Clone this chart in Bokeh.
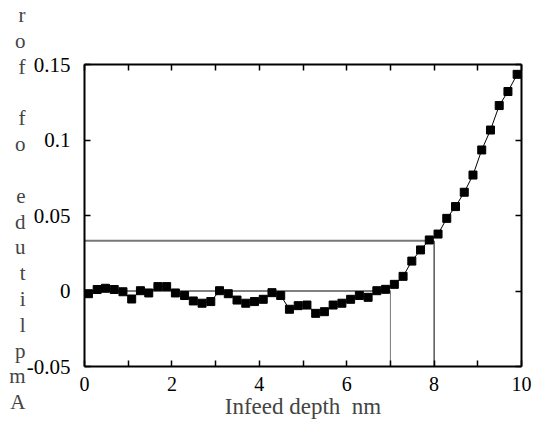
from bokeh.plotting import figure
from bokeh.models import Range1d, LinearAxis, FixedTicker, ColumnDataSource
from bokeh.embed import file_html
from bokeh.resources import INLINE

# Data
depth = [0.09, 0.29, 0.48, 0.68, 0.88, 1.08, 1.28, 1.47, 1.68, 1.88,
         2.08, 2.29, 2.49, 2.69, 2.89, 3.09, 3.29, 3.49, 3.69, 3.89,
         4.09, 4.29, 4.49, 4.69, 4.89, 5.09, 5.29, 5.49, 5.69, 5.89,
         6.09, 6.29, 6.49, 6.69, 6.89, 7.09, 7.29, 7.49, 7.69, 7.89,
         8.09, 8.29, 8.49, 8.69, 8.89, 9.09, 9.29, 9.49, 9.69, 9.90]
amplitude = [-0.0018, 0.0010, 0.0018, 0.0010, -0.0005, -0.0053, 0.0002, -0.0013, 0.0029, 0.0029,
             -0.0013, -0.0030, -0.0066, -0.0081, -0.0070, 0.0002, -0.0018, -0.0060, -0.0081, -0.0070,
             -0.0055, -0.0011, -0.0030, -0.0121, -0.0097, -0.0093, -0.0148, -0.0137, -0.0093, -0.0081,
             -0.0055, -0.0030, -0.0042, 0.0002, 0.0011, 0.0044, 0.0097, 0.0198, 0.0272, 0.0338,
             0.0377, 0.0481, 0.0559, 0.0654, 0.0768, 0.0934, 0.1066, 0.1228, 0.1321, 0.1435]

# reference guide lines: (level, depth)
guide_levels = [0.0, 0.0332]
guide_depths = [7.0, 8.0]
guide_colors = ["black", "#777777"]
guide_widths = [1, 2]
vguide_colors = ["#777777", "black"]

x_ticks = [0, 2, 4, 6, 8, 10]
x_minor = [1, 3, 5, 7, 9]
y_ticks = [-0.05, 0, 0.05, 0.1, 0.15]
y_tick_labels = {-0.05: "-0.05", 0: "0", 0.05: "0.05", 0.1: "0.1", 0.15: "0.15"}
x_label = "Infeed depth\u00a0 nm"
y_label = "Amplitude of for"

FONT = "Liberation Serif"
W, H = 533, 425
BL, BT, FW, FH = 84, 64, 437, 302

p = figure(width=W, height=H, output_backend="svg", toolbar_location=None,
           x_range=Range1d(0, 10), y_range=Range1d(-0.05, 0.15),
           min_border_left=BL, min_border_right=W - BL - FW,
           min_border_top=BT, min_border_bottom=H - BT - FH,
           x_axis_location=None, y_axis_location=None)
p.xgrid.visible = False
p.ygrid.visible = False
p.outline_line_color = None
p.background_fill_color = "white"
p.border_fill_color = "white"

def style(ax, labels=True):
    ax.axis_line_width = 2
    ax.axis_line_color = "black"
    ax.major_tick_in = 6
    ax.major_tick_out = 0
    ax.minor_tick_in = 6
    ax.minor_tick_out = 0
    ax.major_tick_line_width = 1.5
    ax.minor_tick_line_width = 1.5
    ax.major_label_text_font = FONT
    ax.major_label_text_font_size = "20px"
    ax.major_label_text_color = "black"
    if not labels:
        ax.major_label_text_font_size = "0px"
        ax.major_label_text_color = None
        ax.major_label_standoff = 0

bottom = LinearAxis(ticker=FixedTicker(ticks=x_ticks, minor_ticks=x_minor))
style(bottom)
bottom.major_label_standoff = 10
bottom.axis_label = x_label
bottom.axis_label_text_font = FONT
bottom.axis_label_text_font_size = "23px"
bottom.axis_label_text_font_style = "normal"
bottom.axis_label_standoff = 0
p.add_layout(bottom, "below")

top = LinearAxis(ticker=FixedTicker(ticks=x_ticks, minor_ticks=x_minor))
style(top, labels=False)
p.add_layout(top, "above")

left = LinearAxis(ticker=FixedTicker(ticks=y_ticks, minor_ticks=[]))
style(left)
left.major_label_text_font_size = "21px"
left.major_label_standoff = 14
left.major_label_overrides = y_tick_labels
p.add_layout(left, "left")

# stacked, upright y-axis title (reads bottom to top), drawn as one multi-line label
ylab_pos = 0.0545
ylab_axis = LinearAxis(ticker=FixedTicker(ticks=[ylab_pos], minor_ticks=[]))
ylab_axis.major_label_overrides = {
    ylab_pos: "\n".join(c if c != " " else "\u00a0" for c in reversed(y_label))}
ylab_axis.axis_line_color = None
ylab_axis.major_tick_line_color = None
ylab_axis.minor_tick_line_color = None
ylab_axis.major_tick_in = 0
ylab_axis.major_tick_out = 0
ylab_axis.major_label_standoff = -2
ylab_axis.major_label_text_font = FONT
ylab_axis.major_label_text_font_size = "21px"
ylab_axis.major_label_text_line_height = 1.075
ylab_axis.major_label_text_align = "left"
p.add_layout(ylab_axis, "left")

right = LinearAxis(ticker=FixedTicker(ticks=y_ticks, minor_ticks=[]))
style(right, labels=False)
p.add_layout(right, "right")

# guide lines
for lvl, dep, hc, hw, vc in zip(guide_levels, guide_depths, guide_colors, guide_widths, vguide_colors):
    p.line([0, dep], [lvl, lvl], line_color=hc, line_width=hw)
    p.line([dep, dep], [-0.05, lvl], line_color=vc, line_width=1)

src = ColumnDataSource(dict(x=depth, y=amplitude))
p.line("x", "y", source=src, line_color="black", line_width=1)
p.scatter("x", "y", source=src, marker="square", size=8, fill_color="black", line_color="black")

open("out.html", "w").write(file_html(p, INLINE))
